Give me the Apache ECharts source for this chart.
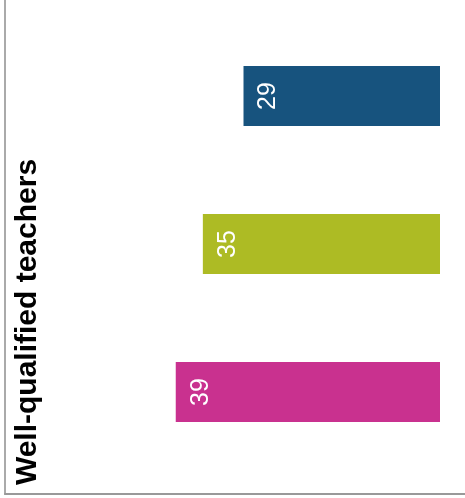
<!DOCTYPE html>
<html>
<head>
<meta charset="utf-8">
<script src="https://cdn.jsdelivr.net/npm/echarts@6/dist/echarts.min.js"></script>
<style>
html,body{margin:0;padding:0;background:#fff}
#main{width:465px;height:498px}
</style>
</head>
<body>
<div id="main"></div>
<script>
// data
var categories = ['Group 1', 'Group 2', 'Group 3']
var values = [29, 35, 39]
var barColors = ['#17537e', '#adbb24', '#c9318f']
var axisTitle = 'Well-qualified teachers'

var chart = echarts.init(document.getElementById('main'))

var barData = []
for (var i = 0; i < values.length; i++) {
	barData.push({ value: values[i], itemStyle: { color: barColors[i] } })
}

var font = '"Liberation Sans", Arial, sans-serif'

chart.setOption({
	animation: false,
	grid: [
		// frame only (axis lines)
		{ left: 5, right: 0, top: 0, bottom: 4 },
		// bars
		{ left: 5, right: 25, top: 22, height: 444 }
	],
	xAxis: [
		{
			gridIndex: 0, type: 'value', min: 0, max: 1,
			axisLine: { show: true, lineStyle: { color: '#999', width: 2 } },
			axisTick: { show: false }, axisLabel: { show: false }, splitLine: { show: false }
		},
		{
			gridIndex: 1, type: 'value', min: 0, max: 64.2, inverse: true,
			axisLine: { show: false }, axisTick: { show: false },
			axisLabel: { show: false }, splitLine: { show: false }
		}
	],
	yAxis: [
		{
			gridIndex: 0, type: 'value', min: 0, max: 1,
			axisLine: { show: true, lineStyle: { color: '#aaa', width: 2 } },
			axisTick: { show: false }, axisLabel: { show: false }, splitLine: { show: false }
		},
		{
			gridIndex: 1, type: 'category', data: categories, inverse: true,
			axisLine: { show: false }, axisTick: { show: false },
			axisLabel: { show: false }, splitLine: { show: false }
		}
	],
	series: [{
		type: 'bar',
		xAxisIndex: 1,
		yAxisIndex: 1,
		data: barData,
		barWidth: 60,
		label: {
			show: true,
			position: 'insideLeft',
			distance: 25,
			rotate: 90,
			align: 'center',
			verticalAlign: 'middle',
			color: '#fff',
			fontSize: 25,
			fontFamily: font
		}
	}],
	graphic: [{
		type: 'text',
		x: 28,
		y: 322,
		rotation: Math.PI / 2,
		style: {
			text: axisTitle,
			fill: '#000',
			font: 'bold 30px ' + font,
			textAlign: 'center',
			textVerticalAlign: 'middle'
		}
	}]
})
</script>
</body>
</html>
